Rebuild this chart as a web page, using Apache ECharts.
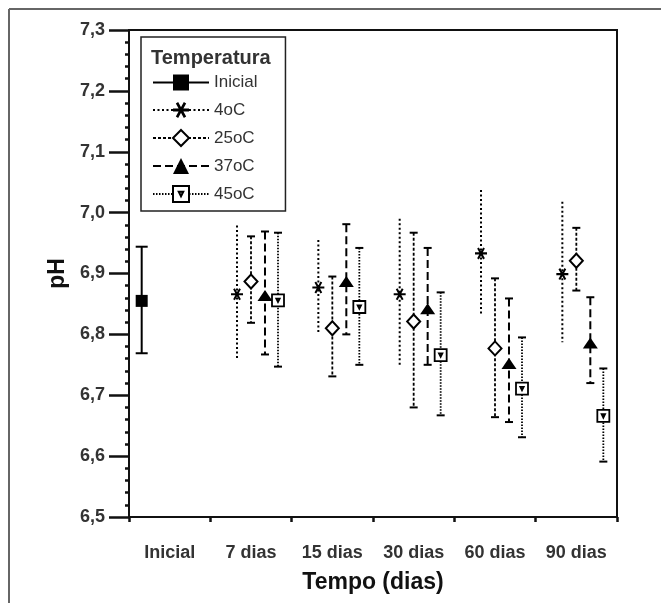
<!DOCTYPE html>
<html lang="pt">
<head>
<meta charset="UTF-8">
<title>pH</title>
<script src="https://cdn.jsdelivr.net/npm/echarts@6/dist/echarts.min.js"></script>
<style>
  body { margin: 0; background: #fff; }
  #main { width: 661px; height: 603px; }
</style>
</head>
<body>
<div id="main"></div>
<script>
var categorias = ['Inicial', '7 dias', '15 dias', '30 dias', '60 dias', '90 dias'];
var yTicks = [6.5, 6.6, 6.7, 6.8, 6.9, 7.0, 7.1, 7.2, 7.3];

// valor inicial (so na categoria "Inicial")
var inicialMedia = [6.855];
var inicialMin = [6.769];
var inicialMax = [6.944];

// 7, 15, 30, 60, 90 dias
var t4Media = [6.866, 6.877, 6.866, 6.933, 6.899];
var t4Min = [6.757, 6.804, 6.747, 6.834, 6.787];
var t4Max = [6.979, 6.955, 6.990, 7.037, 7.018];

var t25Media = [6.887, 6.810, 6.821, 6.777, 6.921];
var t25Min = [6.819, 6.731, 6.680, 6.664, 6.872];
var t25Max = [6.961, 6.895, 6.967, 6.892, 6.975];

var t37Media = [6.864, 6.887, 6.842, 6.752, 6.786];
var t37Min = [6.767, 6.800, 6.750, 6.656, 6.720];
var t37Max = [6.969, 6.981, 6.942, 6.859, 6.861];

var t45Media = [6.856, 6.845, 6.766, 6.711, 6.666];
var t45Min = [6.747, 6.750, 6.667, 6.631, 6.591];
var t45Max = [6.967, 6.942, 6.869, 6.795, 6.744];

var fonte = "'Liberation Sans', Arial, sans-serif";

var asterisco = 'path://M-6,-1L6,-1L6,1L-6,1Z' +
    'M-3.87,-4.70L-2.13,-5.70L3.87,4.70L2.13,5.70Z' +
    'M-2.13,5.70L-3.87,4.70L2.13,-5.70L3.87,-4.70Z';
var quadrado45 = 'path://M0,0L10,0L10,10L0,10Z M3.6,3.6L6.4,3.6L5,6.4Z';

var grupos = [
    { nome: 'Inicial', media: inicialMedia, min: inicialMin, max: inicialMax, inicio: 0, desloc: -0.344,
      symbol: 'rect', size: 12, item: { color: '#000' },
      dash: null, largura: 2, cap: 6 },
    { nome: '4oC', media: t4Media, min: t4Min, max: t4Max, inicio: 1, desloc: -0.172,
      symbol: asterisco, size: 12, item: { color: '#000' },
      dash: [2, 2.5], largura: 2, cap: 0 },
    { nome: '25oC', media: t25Media, min: t25Min, max: t25Max, inicio: 1, desloc: 0,
      symbol: 'diamond', size: [13, 14], item: { color: '#fff', borderColor: '#000', borderWidth: 2 },
      dash: [3, 2], largura: 1.8, cap: 4 },
    { nome: '37oC', media: t37Media, min: t37Min, max: t37Max, inicio: 1, desloc: 0.172,
      symbol: 'triangle', size: [15, 11], item: { color: '#000' },
      dash: [8, 4], largura: 2, cap: 4 },
    { nome: '45oC', media: t45Media, min: t45Min, max: t45Max, inicio: 1, desloc: 0.332,
      symbol: quadrado45, size: 12, item: { color: '#fff', borderColor: '#000', borderWidth: 1.8 },
      dash: [1.5, 1.5], largura: 1.8, cap: 4 }
];

function barraErro(g) {
    return function (params, api) {
        var topo = api.coord([api.value(0), api.value(2)]);
        var base = api.coord([api.value(0), api.value(1)]);
        var estilo = { stroke: '#000', lineWidth: g.largura, lineDash: g.dash };
        var filhos = [{
            type: 'line',
            shape: { x1: topo[0], y1: topo[1], x2: base[0], y2: base[1] },
            style: estilo
        }];
        if (g.cap) {
            filhos.push({ type: 'line', shape: { x1: topo[0] - g.cap, y1: topo[1], x2: topo[0] + g.cap, y2: topo[1] },
                style: { stroke: '#000', lineWidth: 2 } });
            filhos.push({ type: 'line', shape: { x1: base[0] - g.cap, y1: base[1], x2: base[0] + g.cap, y2: base[1] },
                style: { stroke: '#000', lineWidth: 2 } });
        }
        return { type: 'group', children: filhos };
    };
}

var series = [];
var legendData = [];
grupos.forEach(function (g) {
    var pontos = [], barras = [];
    for (var i = 0; i < g.media.length; i++) {
        var x = g.inicio + i + 0.5 + g.desloc;
        pontos.push([x, g.media[i]]);
        barras.push([x, g.min[i], g.max[i]]);
    }
    series.push({
        name: g.nome + ' erro',
        type: 'custom',
        xAxisIndex: 1,
        renderItem: barraErro(g),
        encode: { x: 0, y: [1, 2] },
        data: barras,
        silent: true,
        z: 2
    });
    series.push({
        name: g.nome,
        type: 'line',
        xAxisIndex: 1,
        data: pontos,
        symbol: g.symbol,
        symbolSize: g.size,
        itemStyle: g.item,
        lineStyle: { width: 0, color: 'transparent' },
        emphasis: { disabled: true },
        silent: true,
        z: 3
    });
    legendData.push({
        name: g.nome,
        lineStyle: { color: '#000', width: g.largura, type: g.dash ? g.dash : 'solid', opacity: 1 }
    });
});

var myChart = echarts.init(document.getElementById('main'));
var option = {
    animation: false,
    backgroundColor: '#fff',
    grid: { left: 129, top: 30, right: 44, bottom: 86, show: true, borderColor: '#111', borderWidth: 2 },
    title: {
        text: 'Temperatura',
        left: 151, top: 48, padding: 0,
        textStyle: { fontFamily: fonte, fontSize: 20, fontWeight: 'bold', color: '#333' }
    },
    legend: {
        orient: 'vertical',
        left: 141, top: 37,
        padding: [37, 28, 8, 11],
        itemWidth: 56, itemHeight: 20, itemGap: 10.5,
        borderColor: '#222', borderWidth: 1.5,
        selectedMode: false,
        textStyle: { fontFamily: fonte, fontSize: 17, color: '#333' },
        data: legendData
    },
    xAxis: [{
        type: 'category',
        data: categorias,
        position: 'bottom',
        boundaryGap: true,
        axisLine: { lineStyle: { color: '#111', width: 2 } },
        axisTick: { alignWithLabel: true, length: 18, lineStyle: { color: '#111', width: 2.5 } },
        axisLabel: { margin: 27, fontFamily: fonte, fontSize: 18, fontWeight: 'bold', color: '#333' },
        name: 'Tempo (dias)',
        nameLocation: 'middle',
        nameGap: 54,
        nameTextStyle: { fontFamily: fonte, fontSize: 23, fontWeight: 'bold', color: '#111' }
    }, {
        type: 'value',
        min: 0, max: 6, interval: 1,
        position: 'bottom',
        axisLine: { show: false },
        axisLabel: { show: false },
        splitLine: { show: false },
        axisTick: { show: true, length: 5, lineStyle: { color: '#111', width: 2.5 } }
    }],
    yAxis: {
        type: 'value',
        min: yTicks[0], max: yTicks[yTicks.length - 1], interval: 0.1,
        axisLine: { show: true, lineStyle: { color: '#111', width: 2 } },
        axisTick: { show: true, length: 20, lineStyle: { color: '#111', width: 2.5 } },
        minorTick: { show: true, splitNumber: 5, length: 4, lineStyle: { color: '#111', width: 2.5 } },
        splitLine: { show: false },
        axisLabel: {
            margin: 24, fontFamily: fonte, fontSize: 18, fontWeight: 'bold', color: '#333',
            formatter: function (v) { return v.toFixed(1).replace('.', ','); }
        },
        name: 'pH',
        nameLocation: 'middle',
        nameGap: 60,
        nameTextStyle: { fontFamily: fonte, fontSize: 23, fontWeight: 'bold', color: '#111' }
    },
    graphic: [
        { type: 'line', shape: { x1: 9, y1: 9, x2: 661, y2: 9 }, style: { stroke: '#666', lineWidth: 2 } },
        { type: 'line', shape: { x1: 9, y1: 9, x2: 9, y2: 603 }, style: { stroke: '#666', lineWidth: 2 } }
    ],
    series: series
};
myChart.setOption(option);
</script>
</body>
</html>
